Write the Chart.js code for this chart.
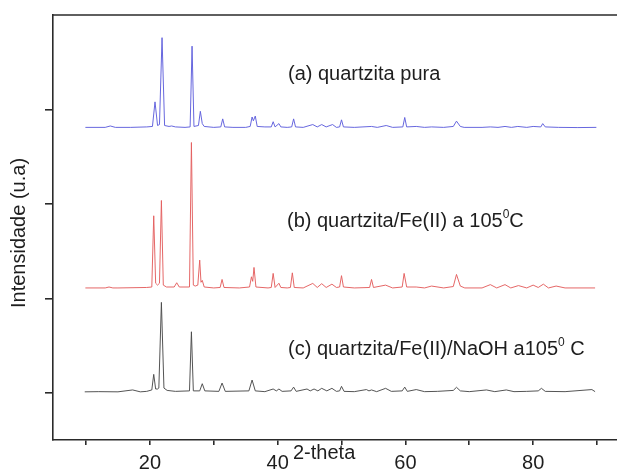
<!DOCTYPE html>
<html>
<head>
<meta charset="utf-8">
<script src="https://cdn.jsdelivr.net/npm/chart.js@4"></script>
<style>
  body { margin: 0; background: #fff; }
  canvas { display: block; }
</style>
</head>
<body>
<canvas id="xrdChart" width="617" height="471"></canvas>
<script>
// (a) quartzita pura
const thetaA = [9.9, 13.0, 13.8, 14.6, 17.0, 19.5, 20.4, 20.8, 21.2, 21.5, 21.9, 22.3, 23.0, 23.4, 24.0, 25.5,
  26.3, 26.6, 26.9, 27.6, 27.9, 28.2, 28.5, 30.0, 31.1, 31.4, 31.7, 33.0, 35.0, 35.7, 36.0, 36.2, 36.5, 36.8,
  38.0, 39.0, 39.3, 39.6, 40.2, 40.5, 41.5, 42.2, 42.5, 42.8, 44.0, 45.5, 46.2, 46.9, 47.6, 48.6, 49.2,
  49.7, 50.0, 50.3, 52.0, 54.7, 55.6, 57.0, 58.0, 59.6, 59.9, 60.2, 61.7, 63.0, 64.1, 66.0, 67.5, 68.0, 68.6, 69.2,
  72.0, 73.3, 74.5, 75.6, 76.6, 77.6, 79.0, 80.0, 81.2, 81.5, 81.9, 84.0, 87.0, 89.9];
const intensA = [3.81, 3.81, 3.825, 3.81, 3.81, 3.815, 3.82, 4.08, 3.83, 3.84, 4.76, 3.83, 3.82, 3.825, 3.815, 3.81,
  3.815, 4.67, 3.82, 3.83, 3.98, 3.85, 3.82, 3.81, 3.815, 3.90, 3.815, 3.81, 3.81, 3.82, 3.92, 3.88, 3.93, 3.82,
  3.815, 3.815, 3.87, 3.815, 3.85, 3.815, 3.81, 3.815, 3.90, 3.815, 3.81, 3.84, 3.815, 3.84, 3.815, 3.84, 3.81,
  3.815, 3.89, 3.815, 3.81, 3.82, 3.81, 3.83, 3.81, 3.815, 3.915, 3.815, 3.82, 3.81, 3.815, 3.81, 3.82, 3.876, 3.82, 3.81,
  3.81, 3.815, 3.81, 3.82, 3.81, 3.82, 3.81, 3.82, 3.815, 3.85, 3.815, 3.81, 3.808, 3.81];

// (b) quartzita/Fe(II) a 105 C
const thetaB = [9.9, 13.0, 13.6, 14.2, 15.0, 19.5, 20.3, 20.6, 20.9, 21.2, 21.5, 21.8, 22.1, 22.6, 23.8, 24.2, 24.6,
  26.2, 26.5, 26.8, 27.1, 27.5, 27.8, 28.0, 28.2, 28.5, 30.0, 31.0, 31.3, 31.6, 34.0, 35.6, 35.9, 36.1, 36.3, 36.6,
  38.5, 39.0, 39.3, 39.6, 40.2, 40.5, 41.5, 42.0, 42.3, 42.6, 44.0, 45.5, 46.2, 46.9, 47.6, 48.5, 49.2,
  49.7, 50.0, 50.3, 52.0, 54.4, 54.7, 55.0, 56.9, 58.0, 59.5, 59.8, 60.2, 61.7, 63.0, 64.1, 66.0,
  67.5, 68.0, 68.6, 69.3, 72.0, 73.3, 74.3, 75.6, 76.5, 77.7, 79.0, 80.0, 80.8, 81.6, 82.4, 83.6, 85.0, 89.7];
const intensB = [2.11, 2.11, 2.12, 2.11, 2.11, 2.115, 2.12, 2.874, 2.16, 2.14, 2.16, 3.036, 2.14, 2.12, 2.12, 2.165, 2.12,
  2.12, 3.65, 2.14, 2.13, 2.14, 2.405, 2.17, 2.19, 2.12, 2.11, 2.115, 2.20, 2.115, 2.11, 2.12, 2.228, 2.18, 2.327, 2.12,
  2.11, 2.115, 2.264, 2.115, 2.16, 2.115, 2.11, 2.115, 2.27, 2.115, 2.11, 2.158, 2.115, 2.155, 2.115, 2.15, 2.115,
  2.12, 2.24, 2.12, 2.11, 2.115, 2.20, 2.115, 2.14, 2.11, 2.12, 2.264, 2.12, 2.12, 2.11, 2.13, 2.11,
  2.125, 2.253, 2.13, 2.11, 2.11, 2.145, 2.11, 2.145, 2.11, 2.135, 2.11, 2.14, 2.115, 2.15, 2.11, 2.13, 2.11, 2.11];

// (c) quartzita/Fe(II)/NaOH a105 C
const thetaC = [9.8, 12.0, 15.0, 17.3, 18.5, 19.5, 20.3, 20.6, 20.9, 21.2, 21.4, 21.8, 22.2, 22.7, 24.0,
  26.2, 26.5, 26.8, 27.8, 28.2, 28.6, 30.8, 31.3, 31.8, 35.5, 36.0, 36.5, 38.0, 39.3, 39.8, 40.2, 40.7,
  42.1, 42.5, 42.9, 44.6, 45.1, 45.7, 46.3, 46.9, 47.7, 48.5, 49.2, 49.7, 50.0, 50.4, 52.0, 53.9, 54.3, 54.7, 55.5,
  56.9, 57.8, 59.5, 59.9, 60.3, 61.7, 63.0, 65.0, 67.5, 68.0, 68.6, 70.0, 72.7, 74.0, 75.8, 77.0, 79.0,
  80.8, 81.3, 81.9, 85.0, 89.2, 89.7];
const intensC = [1.01, 1.012, 1.01, 1.03, 1.01, 1.015, 1.03, 1.195, 1.04, 1.04, 1.05, 1.957, 1.05, 1.025, 1.015,
  1.02, 1.646, 1.02, 1.02, 1.096, 1.02, 1.015, 1.103, 1.015, 1.02, 1.135, 1.02, 1.012, 1.04, 1.02, 1.04, 1.015,
  1.02, 1.06, 1.015, 1.04, 1.02, 1.04, 1.02, 1.047, 1.02, 1.047, 1.015, 1.02, 1.068, 1.015, 1.012, 1.034, 1.02, 1.03, 1.012,
  1.047, 1.015, 1.02, 1.06, 1.015, 1.034, 1.012, 1.015, 1.025, 1.058, 1.02, 1.012, 1.03, 1.012, 1.03, 1.012, 1.015,
  1.02, 1.047, 1.015, 1.012, 1.034, 1.012];

const xTicks = [10, 20, 30, 40, 50, 60, 70, 80, 90];
const xTickLabels = ["", "20", "", "40", "", "60", "", "80", ""];
const yTicks = [1, 2, 3, 4];

function toPoints(xs, ys) {
  return xs.map((x, i) => ({ x: x, y: ys[i] }));
}

const FONT = "'Liberation Sans', Arial, sans-serif";
const TEXT = "#1e1e1e";
const AXIS = "#2a2a2a";

// labels, axis title and the top frame line
const textPlugin = {
  id: "textPlugin",
  afterDraw(chart) {
    const c = chart.ctx;
    const area = chart.chartArea;
    c.save();
    c.strokeStyle = AXIS;
    c.lineWidth = 1.6;
    c.beginPath();
    c.moveTo(area.left - 0.8, area.top);
    c.lineTo(chart.width, area.top);
    c.stroke();

    c.fillStyle = TEXT;
    c.textBaseline = "alphabetic";
    c.textAlign = "left";

    function withSup(parts, x, y) {
      let px = x;
      parts.forEach(p => {
        c.font = p.sup ? "12px " + FONT : "20px " + FONT;
        c.fillText(p.t, px, p.sup ? y - 9 : y);
        px += c.measureText(p.t).width;
      });
    }

    withSup([{ t: "(a) quartzita pura" }], 288, 80);
    withSup([{ t: "(b) quartzita/Fe(II) a 105" }, { t: "0", sup: true }, { t: "C" }], 287, 227);
    withSup([{ t: "(c) quartzita/Fe(II)/NaOH a105" }, { t: "0", sup: true }, { t: " C" }], 288, 355);

    c.font = "20px " + FONT;
    c.fillText("2-theta", 293, 459);

    c.translate(19, 233);
    c.rotate(-Math.PI / 2);
    c.textAlign = "center";
    c.textBaseline = "middle";
    c.fillText("Intensidade (u.a)", 0, 0);
    c.restore();
  }
};

const ctx = document.getElementById("xrdChart").getContext("2d");

const xrdChart = new Chart(ctx, {
  type: "line",
  data: {
    datasets: [
      {
        label: "(a)",
        data: toPoints(thetaA, intensA),
        borderColor: "rgba(95, 95, 220, 0.95)",
        borderWidth: 1,
      },
      {
        label: "(b)",
        data: toPoints(thetaB, intensB),
        borderColor: "rgba(228, 95, 95, 0.95)",
        borderWidth: 1,
      },
      {
        label: "(c)",
        data: toPoints(thetaC, intensC),
        borderColor: "rgba(75, 75, 75, 0.95)",
        borderWidth: 1,
      },
    ],
  },
  options: {
    responsive: false,
    animation: false,
    devicePixelRatio: 1,
    elements: {
      point: { radius: 0 },
      line: { tension: 0 },
    },
    layout: {
      padding: { top: 15, right: 0, left: 0, bottom: 0 },
    },
    scales: {
      x: {
        type: "linear",
        min: 4.83,
        max: 93.13,
        afterBuildTicks: (scale) => {
          scale.ticks = xTicks.map(v => ({ value: v }));
        },
        afterFit: (scale) => {
          scale.height = 31;
        },
        ticks: {
          autoSkip: false,
          maxRotation: 0,
          padding: 6,
          color: TEXT,
          font: { family: FONT, size: 20 },
          callback: (value) => {
            const i = xTicks.indexOf(value);
            return i >= 0 ? xTickLabels[i] : "";
          },
        },
        grid: {
          drawOnChartArea: false,
          drawTicks: true,
          tickLength: 5,
          color: AXIS,
          lineWidth: 1.6,
        },
        border: { display: true, color: AXIS, width: 1.6 },
      },
      y: {
        min: 0.5,
        max: 5,
        afterBuildTicks: (scale) => {
          scale.ticks = yTicks.map(v => ({ value: v }));
        },
        afterFit: (scale) => {
          scale.width = 53;
        },
        ticks: {
          callback: () => "",
        },
        grid: {
          drawOnChartArea: false,
          drawTicks: true,
          tickLength: 8,
          color: AXIS,
          lineWidth: 1.6,
        },
        border: { display: true, color: AXIS, width: 1.6 },
      },
    },
    plugins: {
      legend: { display: false },
      tooltip: { enabled: false },
    },
  },
  plugins: [textPlugin],
});
</script>
</body>
</html>
